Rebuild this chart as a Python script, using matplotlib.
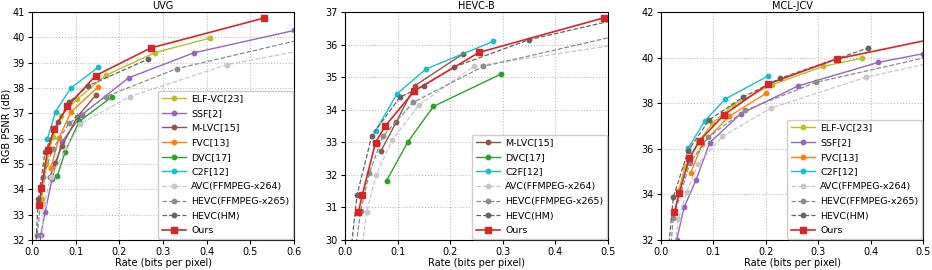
import matplotlib
matplotlib.use("Agg")
from matplotlib import pyplot as plt

# ---- UVG ----
uvg_ours_x = [0.0167, 0.0213, 0.036, 0.051, 0.081, 0.146, 0.272, 0.531]
uvg_ours_y = [33.38, 34.04, 35.56, 36.38, 37.27, 38.49, 39.58, 40.76]
uvg_elf_x = [0.022, 0.033, 0.047, 0.066, 0.104, 0.169, 0.282, 0.408]
uvg_elf_y = [33.6, 35.0, 36.05, 36.9, 37.57, 38.5, 39.40, 39.97]
uvg_ssf_x = [0.016, 0.020, 0.030, 0.046, 0.068, 0.114, 0.221, 0.371, 0.600]
uvg_ssf_y = [31.0, 32.2, 33.1, 34.41, 35.86, 36.94, 38.40, 39.39, 40.27]
uvg_mlvc_x = [0.041, 0.053, 0.069, 0.104, 0.147]
uvg_mlvc_y = [34.5, 35.05, 35.72, 36.87, 37.73]
uvg_fvc_x = [0.043, 0.062, 0.089, 0.150]
uvg_fvc_y = [34.83, 36.04, 37.05, 38.02]
uvg_dvc_x = [0.058, 0.076, 0.108, 0.184]
uvg_dvc_y = [34.53, 35.49, 36.68, 37.66]
uvg_c2f_x = [0.035, 0.054, 0.089, 0.151]
uvg_c2f_y = [35.98, 37.07, 38.00, 38.81]
uvg_avc_x = [0.018, 0.0275, 0.043, 0.110, 0.224, 0.446, 0.70]
uvg_avc_y = [31.0, 33.42, 34.50, 36.58, 37.66, 38.92, 39.75]
uvg_x265_x = [0.012, 0.026, 0.047, 0.085, 0.169, 0.331, 0.70]
uvg_x265_y = [32.2, 34.50, 35.58, 36.61, 37.66, 38.76, 40.25]
uvg_hm_x = [0.008, 0.0145, 0.030, 0.059, 0.084, 0.129, 0.266]
uvg_hm_y = [31.5, 33.62, 35.49, 36.65, 37.43, 38.09, 39.14]

# ---- HEVC-B ----
hevcb_ours_x = [0.0253, 0.033, 0.058, 0.076, 0.132, 0.255, 0.492]
hevcb_ours_y = [30.85, 31.39, 32.99, 33.49, 34.58, 35.76, 36.82]
hevcb_mlvc_x = [0.068, 0.097, 0.133, 0.225]
hevcb_mlvc_y = [32.72, 33.61, 34.74, 35.72]
hevcb_dvc_x = [0.079, 0.119, 0.168, 0.296]
hevcb_dvc_y = [31.82, 33.00, 34.10, 35.09]
hevcb_c2f_x = [0.058, 0.099, 0.154, 0.282]
hevcb_c2f_y = [33.35, 34.49, 35.25, 36.10]
hevcb_avc_x = [0.030, 0.041, 0.059, 0.090, 0.141, 0.245, 0.62]
hevcb_avc_y = [29.5, 30.85, 31.99, 33.08, 34.15, 35.33, 36.25]
hevcb_x265_x = [0.018, 0.030, 0.046, 0.072, 0.130, 0.263, 0.62]
hevcb_x265_y = [29.5, 30.90, 32.05, 33.18, 34.23, 35.33, 36.65]
hevcb_hm_x = [0.010, 0.023, 0.051, 0.104, 0.150, 0.207, 0.350, 0.62]
hevcb_hm_y = [29.5, 31.39, 33.20, 34.38, 34.74, 35.31, 36.15, 37.15]

# ---- MCL-JCV ----
mcl_ours_x = [0.0254, 0.035, 0.054, 0.074, 0.120, 0.205, 0.335, 0.62]
mcl_ours_y = [33.22, 34.08, 35.59, 36.36, 37.49, 38.85, 39.94, 41.3]
mcl_elf_x = [0.034, 0.046, 0.071, 0.098, 0.138, 0.212, 0.309, 0.384]
mcl_elf_y = [34.2, 35.22, 36.29, 37.12, 37.93, 38.81, 39.61, 39.98]
mcl_ssf_x = [0.026, 0.030, 0.044, 0.067, 0.093, 0.152, 0.262, 0.415, 0.500]
mcl_ssf_y = [31.3, 32.0, 33.43, 34.64, 36.27, 37.53, 38.76, 39.79, 40.17]
mcl_fvc_x = [0.057, 0.079, 0.130, 0.201]
mcl_fvc_y = [34.96, 36.22, 37.42, 38.44]
mcl_c2f_x = [0.052, 0.084, 0.123, 0.205]
mcl_c2f_y = [36.03, 37.24, 38.19, 39.20]
mcl_avc_x = [0.022, 0.033, 0.049, 0.071, 0.117, 0.209, 0.391, 0.62]
mcl_avc_y = [31.0, 32.90, 34.12, 35.34, 36.54, 37.78, 39.14, 40.3]
mcl_x265_x = [0.016, 0.0235, 0.055, 0.090, 0.160, 0.295, 0.62]
mcl_x265_y = [31.0, 32.95, 35.37, 36.51, 37.68, 38.91, 40.6]
mcl_hm_x = [0.012, 0.0235, 0.052, 0.092, 0.157, 0.228, 0.395]
mcl_hm_y = [31.0, 33.88, 35.92, 37.27, 38.27, 39.10, 40.42]

C_ELF = '#bcbd22'
C_SSF = '#9467bd'
C_MLVC = '#8c564b'
C_FVC = '#ff7f0e'
C_DVC = '#2ca02c'
C_C2F = '#17becf'
C_OURS = '#d62728'
C_AVC = '#c7c7c7'
C_X265 = '#8c8c8c'
C_HM = '#646464'

FS = 7

plt.rcParams['font.size'] = FS

fig = plt.figure(figsize=(9.32, 2.70), dpi=100)
ax1 = fig.add_axes([32 / 932, 30 / 270, 262 / 932, 228 / 270])
ax2 = fig.add_axes([345 / 932, 30 / 270, 263 / 932, 228 / 270])
ax3 = fig.add_axes([661 / 932, 30 / 270, 262 / 932, 228 / 270])


def learned(ax, x, y, color, label):
    ax.plot(x, y, '-', color=color, marker='o', ms=3.2, lw=1.0, label=label)


def codec(ax, x, y, color, label):
    ax.plot(x, y, '--', color=color, marker='o', ms=3.2, lw=0.9, label=label)


def ours(ax, x, y):
    ax.plot(x, y, '-', color=C_OURS, marker='s', ms=5, lw=1.2, label='Ours')


def style(ax, title, xmax, ylim, yticks):
    ax.set_title(title, fontsize=FS, pad=2)
    ax.set_xlim(0, xmax)
    ax.set_ylim(*ylim)
    ax.set_yticks(yticks)
    ax.set_xlabel("Rate (bits per pixel)", fontsize=FS, labelpad=1)
    ax.grid(True, linestyle=':', color='#bbbbbb', lw=0.8)
    ax.tick_params(labelsize=FS, pad=2, length=3)
    ax.legend(loc='lower right', fontsize=6.8, handlelength=2.6, handletextpad=0.5,
              labelspacing=0.6, borderpad=0.4, borderaxespad=0.1,
              framealpha=1.0, edgecolor='#cccccc', fancybox=True)


# UVG
learned(ax1, uvg_elf_x, uvg_elf_y, C_ELF, 'ELF-VC[23]')
learned(ax1, uvg_ssf_x, uvg_ssf_y, C_SSF, 'SSF[2]')
learned(ax1, uvg_mlvc_x, uvg_mlvc_y, C_MLVC, 'M-LVC[15]')
learned(ax1, uvg_fvc_x, uvg_fvc_y, C_FVC, 'FVC[13]')
learned(ax1, uvg_dvc_x, uvg_dvc_y, C_DVC, 'DVC[17]')
learned(ax1, uvg_c2f_x, uvg_c2f_y, C_C2F, 'C2F[12]')
codec(ax1, uvg_avc_x, uvg_avc_y, C_AVC, 'AVC(FFMPEG-x264)')
codec(ax1, uvg_x265_x, uvg_x265_y, C_X265, 'HEVC(FFMPEG-x265)')
codec(ax1, uvg_hm_x, uvg_hm_y, C_HM, 'HEVC(HM)')
ours(ax1, uvg_ours_x, uvg_ours_y)
style(ax1, 'UVG', 0.6, (32, 41), range(32, 42))
ax1.set_ylabel("RGB PSNR (dB)", fontsize=FS, labelpad=1)

# HEVC-B
learned(ax2, hevcb_mlvc_x, hevcb_mlvc_y, C_MLVC, 'M-LVC[15]')
learned(ax2, hevcb_dvc_x, hevcb_dvc_y, C_DVC, 'DVC[17]')
learned(ax2, hevcb_c2f_x, hevcb_c2f_y, C_C2F, 'C2F[12]')
codec(ax2, hevcb_avc_x, hevcb_avc_y, C_AVC, 'AVC(FFMPEG-x264)')
codec(ax2, hevcb_x265_x, hevcb_x265_y, C_X265, 'HEVC(FFMPEG-x265)')
codec(ax2, hevcb_hm_x, hevcb_hm_y, C_HM, 'HEVC(HM)')
ours(ax2, hevcb_ours_x, hevcb_ours_y)
style(ax2, 'HEVC-B', 0.5, (30, 37), range(30, 38))

# MCL-JCV
learned(ax3, mcl_elf_x, mcl_elf_y, C_ELF, 'ELF-VC[23]')
learned(ax3, mcl_ssf_x, mcl_ssf_y, C_SSF, 'SSF[2]')
learned(ax3, mcl_fvc_x, mcl_fvc_y, C_FVC, 'FVC[13]')
learned(ax3, mcl_c2f_x, mcl_c2f_y, C_C2F, 'C2F[12]')
codec(ax3, mcl_avc_x, mcl_avc_y, C_AVC, 'AVC(FFMPEG-x264)')
codec(ax3, mcl_x265_x, mcl_x265_y, C_X265, 'HEVC(FFMPEG-x265)')
codec(ax3, mcl_hm_x, mcl_hm_y, C_HM, 'HEVC(HM)')
ours(ax3, mcl_ours_x, mcl_ours_y)
style(ax3, 'MCL-JCV', 0.5, (32, 42), range(32, 43, 2))

fig.savefig("out.png", dpi=100)
